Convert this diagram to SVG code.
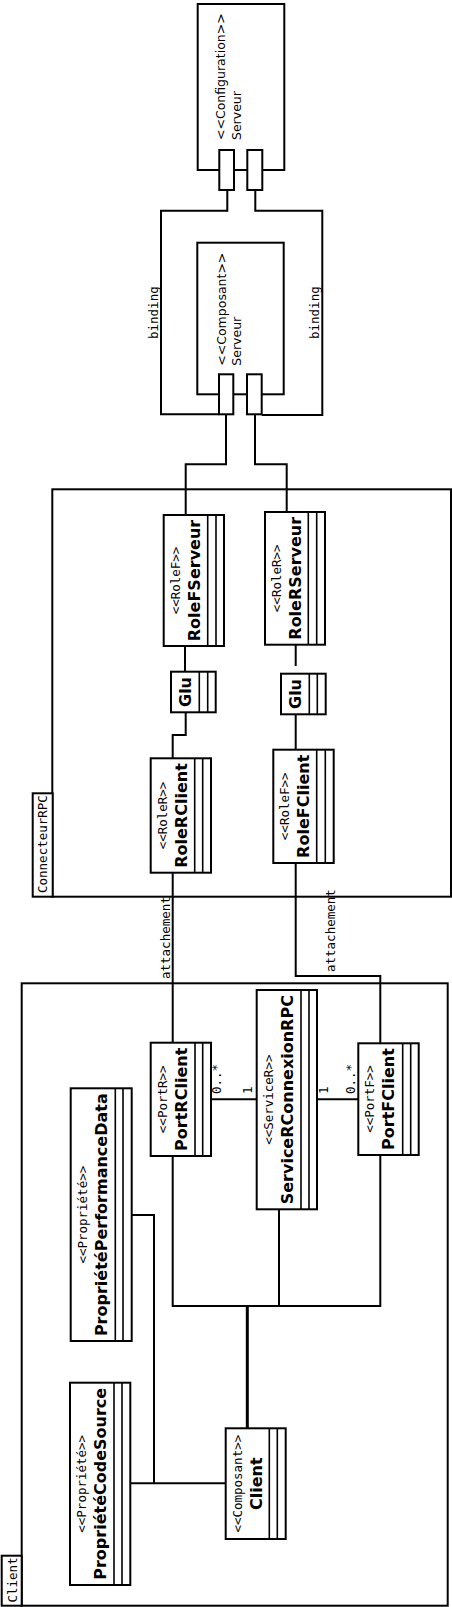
<svg xmlns="http://www.w3.org/2000/svg" width="452" height="1607" viewBox="0 0 452 1607">
<style>
.box{fill:#fff;stroke:#000;stroke-width:2}
.frm{fill:none;stroke:#000;stroke-width:2}
.ln{fill:none;stroke:#000;stroke-width:2}
.cl{stroke:#000;stroke-width:1.6}
.st{font-family:"DejaVu Sans Mono",monospace;font-size:12.5px;text-anchor:middle}
.mo{font-family:"DejaVu Sans Mono",monospace;font-size:12.5px}
.sa{font-family:"DejaVu Sans",sans-serif;font-size:12.5px}
.nm{font-family:"DejaVu Sans",sans-serif;font-weight:bold;font-size:16px;text-anchor:middle}
</style>
<rect width="452" height="1607" fill="#fff"/>

<g id="frame-connecteur">
<rect class="frm" x="52.3" y="489.3" width="398.7" height="407.4"/>
<rect class="box" x="32.7" y="793.3" width="20" height="103.4"/>
<text class="mo" transform="translate(47 893) rotate(-90)">ConnecteurRPC</text>
</g>
<g id="frame-client">
<rect class="frm" x="21.7" y="983.3" width="426" height="622.4"/>
<rect class="box" x="1.7" y="1555.7" width="20" height="50"/>
<text class="mo" transform="translate(16.5 1602.5) rotate(-90)">Client</text>
</g>

<g id="connectors">
<path class="ln" d="M227.3,190 V210.7 H161 V414.3 H219"/>
<path class="ln" d="M255.3,190 V210.7 H322.3 V415 H261.7"/>
<text class="mo" transform="translate(157.5 339) rotate(-90)">binding</text>
<text class="mo" transform="translate(319 339) rotate(-90)">binding</text>
<path class="ln" d="M226,414.3 V464.3 H185.7 V515"/>
<path class="ln" d="M255,414.3 V464.3 H286.7 V512"/>
<path class="ln" d="M185,646 V671.7"/>
<path class="ln" d="M295.7,644.7 V666"/>
<path class="ln" d="M185.7,712.3 V735 H172.7 V758.3"/>
<path class="ln" d="M295.7,714.3 V749.7"/>
<path class="ln" d="M172.7,872.7 V1042.7"/>
<path class="ln" d="M295.7,863 V976 H380.3 V1043.3"/>
<text class="mo" transform="translate(170.3 979) rotate(-90)">attachement</text>
<text class="mo" transform="translate(334.5 972) rotate(-90)">attachement</text>
<path class="ln" d="M211,1099.3 H256.7"/>
<path class="ln" d="M317,1099.3 H358.3"/>
<text class="mo" transform="translate(220.5 1094) rotate(-90)">0..*</text>
<text class="mo" transform="translate(252 1094) rotate(-90)">1</text>
<text class="mo" transform="translate(327.5 1094) rotate(-90)">1</text>
<text class="mo" transform="translate(354.5 1094) rotate(-90)">0..*</text>
<path class="ln" d="M172.7,1156 V1306 H380.3 V1155"/>
<path class="ln" d="M279,1209.3 V1306"/>
<path class="ln" style="stroke-width:3" d="M247.3,1306 V1428.3"/>
<path class="ln" d="M131.7,1215 H154 V1483.3"/>
<path class="ln" d="M130.3,1483.3 H225.7"/>
</g>

<g id="config-serveur">
<rect class="box" x="197.7" y="4" width="86.6" height="166"/>
<text class="sa" transform="translate(225 140) rotate(-90)">&lt;&lt;Configuration&gt;&gt;</text>
<text class="sa" transform="translate(240.5 140) rotate(-90)">Serveur</text>
<rect class="box" x="219.3" y="150" width="14.7" height="40"/>
<rect class="box" x="247.3" y="150" width="15" height="40"/>
</g>

<g id="composant-serveur">
<rect class="box" x="197.3" y="242.7" width="86.4" height="151.6"/>
<text class="sa" transform="translate(225.5 365.7) rotate(-90)">&lt;&lt;Composant&gt;&gt;</text>
<text class="sa" transform="translate(240.5 365.7) rotate(-90)">Serveur</text>
<rect class="box" x="219" y="374.3" width="14.3" height="40"/>
<rect class="box" x="247" y="374.3" width="14.7" height="40"/>
</g>

<g id="RoleFServeur">
<rect class="box" x="163.7" y="515" width="60.3" height="131"/>
<line class="cl" x1="207.7" y1="515" x2="207.7" y2="646"/>
<line class="cl" x1="216" y1="515" x2="216" y2="646"/>
<text class="st" transform="translate(179.7 580.5) rotate(-90)">&lt;&lt;RoleF&gt;&gt;</text>
<text class="nm" transform="translate(199.7 580.5) rotate(-90)">RoleFServeur</text>
</g>
<g id="RoleRServeur">
<rect class="box" x="265" y="512" width="60" height="132.7"/>
<line class="cl" x1="308.3" y1="512" x2="308.3" y2="644.7"/>
<line class="cl" x1="316.7" y1="512" x2="316.7" y2="644.7"/>
<text class="st" transform="translate(281 578.3) rotate(-90)">&lt;&lt;RoleR&gt;&gt;</text>
<text class="nm" transform="translate(301 578.3) rotate(-90)">RoleRServeur</text>
</g>
<g id="Glu1">
<rect class="box" x="171" y="671.7" width="44.7" height="40.6"/>
<line class="cl" x1="199.3" y1="671.7" x2="199.3" y2="712.3"/>
<line class="cl" x1="207.7" y1="671.7" x2="207.7" y2="712.3"/>
<text class="nm" transform="translate(191 692) rotate(-90)">Glu</text>
</g>
<g id="Glu2">
<rect class="box" x="281" y="673.7" width="44.7" height="40.6"/>
<line class="cl" x1="309.3" y1="673.7" x2="309.3" y2="714.3"/>
<line class="cl" x1="317.3" y1="673.7" x2="317.3" y2="714.3"/>
<text class="nm" transform="translate(301 694) rotate(-90)">Glu</text>
</g>
<g id="RoleRClient">
<rect class="box" x="150.7" y="758.3" width="60.3" height="114.4"/>
<line class="cl" x1="194.7" y1="758.3" x2="194.7" y2="872.7"/>
<line class="cl" x1="202.7" y1="758.3" x2="202.7" y2="872.7"/>
<text class="st" transform="translate(166.7 815.5) rotate(-90)">&lt;&lt;RoleR&gt;&gt;</text>
<text class="nm" transform="translate(186.7 815.5) rotate(-90)">RoleRClient</text>
</g>
<g id="RoleFClient">
<rect class="box" x="273.3" y="749.7" width="60.4" height="113.3"/>
<line class="cl" x1="316.7" y1="749.7" x2="316.7" y2="863"/>
<line class="cl" x1="325.3" y1="749.7" x2="325.3" y2="863"/>
<text class="st" transform="translate(289.3 806.3) rotate(-90)">&lt;&lt;RoleF&gt;&gt;</text>
<text class="nm" transform="translate(309.3 806.3) rotate(-90)">RoleFClient</text>
</g>

<g id="PortRClient">
<rect class="box" x="150.7" y="1042.7" width="60.3" height="113.3"/>
<line class="cl" x1="195" y1="1042.7" x2="195" y2="1156"/>
<line class="cl" x1="202.7" y1="1042.7" x2="202.7" y2="1156"/>
<text class="st" transform="translate(166.7 1099.3) rotate(-90)">&lt;&lt;PortR&gt;&gt;</text>
<text class="nm" transform="translate(186.7 1099.3) rotate(-90)">PortRClient</text>
</g>
<g id="ServiceRConnexionRPC">
<rect class="box" x="256.7" y="990" width="60.3" height="219.3"/>
<line class="cl" x1="301" y1="990" x2="301" y2="1209.3"/>
<line class="cl" x1="309" y1="990" x2="309" y2="1209.3"/>
<text class="st" transform="translate(272.7 1099.7) rotate(-90)">&lt;&lt;ServiceR&gt;&gt;</text>
<text class="nm" transform="translate(292.7 1099.7) rotate(-90)">ServiceRConnexionRPC</text>
</g>
<g id="PortFClient">
<rect class="box" x="358.3" y="1043.3" width="60.4" height="111.7"/>
<line class="cl" x1="402.7" y1="1043.3" x2="402.7" y2="1155"/>
<line class="cl" x1="410.7" y1="1043.3" x2="410.7" y2="1155"/>
<text class="st" transform="translate(374.3 1099) rotate(-90)">&lt;&lt;PortF&gt;&gt;</text>
<text class="nm" transform="translate(394.3 1099) rotate(-90)">PortFClient</text>
</g>
<g id="ProprietePerformanceData">
<rect class="box" x="70.7" y="1088.3" width="61" height="252.7"/>
<line class="cl" x1="115.3" y1="1088.3" x2="115.3" y2="1341"/>
<line class="cl" x1="123" y1="1088.3" x2="123" y2="1341"/>
<text class="st" transform="translate(86.7 1214.7) rotate(-90)">&lt;&lt;Propriété&gt;&gt;</text>
<text class="nm" transform="translate(106.7 1214.7) rotate(-90)">PropriétéPerformanceData</text>
</g>
<g id="ProprieteCodeSource">
<rect class="box" x="70" y="1382.7" width="60.3" height="202.3"/>
<line class="cl" x1="114" y1="1382.7" x2="114" y2="1585"/>
<line class="cl" x1="122" y1="1382.7" x2="122" y2="1585"/>
<text class="st" transform="translate(86 1483.8) rotate(-90)">&lt;&lt;Propriété&gt;&gt;</text>
<text class="nm" transform="translate(106 1483.8) rotate(-90)">PropriétéCodeSource</text>
</g>
<g id="ClientComposant">
<rect class="box" x="225.7" y="1428.3" width="60" height="110.7"/>
<line class="cl" x1="269.3" y1="1428.3" x2="269.3" y2="1539"/>
<line class="cl" x1="277.3" y1="1428.3" x2="277.3" y2="1539"/>
<text class="st" transform="translate(241.7 1483.7) rotate(-90)">&lt;&lt;Composant&gt;&gt;</text>
<text class="nm" transform="translate(261.7 1483.7) rotate(-90)">Client</text>
</g>
</svg>
